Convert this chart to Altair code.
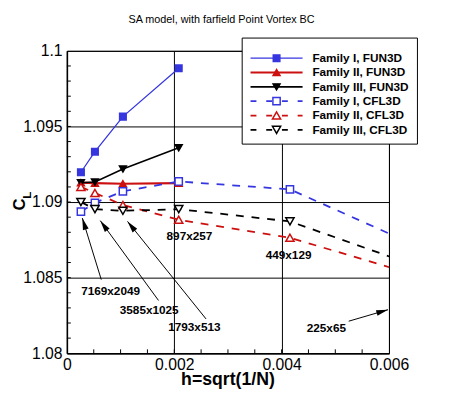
import json
import math
import altair as alt
import pandas as pd

# ---------------- data ----------------
h = [0.000261, 0.000522, 0.001043, 0.002083, 0.004155, 0.00827]
series_names = ["Family I, FUN3D", "Family II, FUN3D", "Family III, FUN3D",
                "Family I, CFL3D", "Family II, CFL3D", "Family III, CFL3D"]
fam1_fun3d = [1.09197, 1.09333, 1.09565, 1.09885]
fam2_fun3d = [1.09128, 1.09125, 1.09121, 1.09125]
fam3_fun3d = [1.09128, 1.09132, 1.09219, 1.09359]
fam1_cfl3d = [1.08937, 1.08995, 1.09071, 1.09136, 1.09084, 1.08433]
fam2_cfl3d = [1.09100, 1.09060, 1.08980, 1.08883, 1.08764, 1.08331]
fam3_cfl3d = [1.09000, 1.08953, 1.08942, 1.08953, 1.08872, 1.08357]
series_values = [fam1_fun3d, fam2_fun3d, fam3_fun3d, fam1_cfl3d, fam2_cfl3d, fam3_cfl3d]

x_ticks = [0, 0.002, 0.004, 0.006]
x_tick_labels = ["0", "0.002", "0.004", "0.006"]
y_ticks = [1.08, 1.085, 1.09, 1.095, 1.1]
y_tick_labels = ["1.08", "1.085", "1.09", "1.095", "1.1"]
x_minor = [0.0005, 0.001, 0.0015, 0.002, 0.0025, 0.003, 0.0035, 0.004, 0.0045, 0.005, 0.0055]
y_minor = [1.081, 1.082, 1.083, 1.084, 1.085, 1.086, 1.087, 1.088, 1.089, 1.09,
           1.091, 1.092, 1.093, 1.094, 1.095, 1.096, 1.097, 1.098, 1.099]

grid_labels = ["7169x2049", "3585x1025", "1793x513", "897x257", "449x129", "225x65"]
label_x = [0.000814, 0.001533, 0.002374, 0.002283, 0.00413, 0.004833]
label_y = [1.08414, 1.08284, 1.08171, 1.08775, 1.08649, 1.08169]

arrow_tail_x = [0.00064, 0.001707, 0.002592, 0.00525]
arrow_tail_y = [1.08487, 1.08349, 1.08227, 1.08212]
arrow_head_x = [0.000287, 0.000622, 0.001129, 0.005982]
arrow_head_y = [1.08894, 1.08877, 1.08872, 1.08288]

title_text = "SA model, with farfield Point Vortex BC"
x_title = "h=sqrt(1/N)"

# ---------------- styles ----------------
BLUE = "#3636e0"
RED = "#cc1010"
BLACK = "#000000"
FONT = "Liberation Sans"
W, H = 328, 308
X_DOM = [0, 0.006]
Y_DOM = [1.08, 1.1]

styles = [
    dict(color=BLUE, dash=None, shape="square", fill=BLUE, size=45, lw=1.3),
    dict(color=RED, dash=None, shape="triangle-up", fill=RED, size=50, lw=2.2),
    dict(color=BLACK, dash=None, shape="triangle-down", fill=BLACK, size=50, lw=1.6),
    dict(color=BLUE, dash=[8, 8], shape="square", fill="white", size=55, lw=1.8),
    dict(color=RED, dash=[8, 8], shape="triangle-up", fill="white", size=70, lw=1.8),
    dict(color=BLACK, dash=[8, 8], shape="triangle-down", fill="white", size=70, lw=1.8),
]

xs = alt.Scale(domain=X_DOM, nice=False, zero=False)
ys = alt.Scale(domain=Y_DOM, nice=False, zero=False)

x_axis = alt.Axis(values=x_ticks, title=None, grid=True, ticks=False,
                  labelExpr=f"{json.dumps(x_tick_labels)}[round(datum.value/0.002)]",
                  labelFont=FONT, labelFontSize=16, labelColor="black", labelPadding=4,
                  labelFlush=False, labelOverlap=False, labelBound=False,
                  domainColor="black", domainWidth=1.5,
                  gridColor="black", gridWidth=1, gridOpacity=1)
y_axis = alt.Axis(values=y_ticks, title=None, grid=True, ticks=False,
                  labelExpr=f"{json.dumps(y_tick_labels)}[round((datum.value-1.08)/0.005)]",
                  labelFont=FONT, labelFontSize=16, labelColor="black", labelPadding=5,
                  labelFlush=False, labelOverlap=False, labelBound=False,
                  domainColor="black", domainWidth=1.5,
                  gridColor="black", gridWidth=1, gridOpacity=1)


def X(field):
    return alt.X(field, type="quantitative", scale=xs, axis=x_axis)


def Y(field):
    return alt.Y(field, type="quantitative", scale=ys, axis=y_axis)


one = pd.DataFrame({"k": [0]})
layers = []

# minor ticks (inward)
layers.append(alt.Chart(pd.DataFrame({"v": y_minor})).mark_rule(color="black", strokeWidth=1)
              .encode(y=Y("v"), x=alt.value(0), x2=alt.value(4)))
layers.append(alt.Chart(pd.DataFrame({"v": x_minor})).mark_rule(color="black", strokeWidth=1)
              .encode(x=X("v"), y=alt.value(H), y2=alt.value(H - 4)))

# data series
for name, vals, st in zip(series_names, series_values, styles):
    df = pd.DataFrame({"h": h[:len(vals)], "cl": vals, "series": name, "o": list(range(len(vals)))})
    line_kw = dict(color=st["color"], strokeWidth=st["lw"], clip=True)
    if st["dash"]:
        line_kw["strokeDash"] = st["dash"]
    layers.append(alt.Chart(df).mark_line(**line_kw)
                  .encode(x=X("h"), y=Y("cl"), order="o:Q"))
    layers.append(alt.Chart(df).mark_point(shape=st["shape"], filled=True, fill=st["fill"],
                                           stroke=st["color"], strokeWidth=1.5, opacity=1,
                                           size=st["size"], clip=True)
                  .encode(x=X("h"), y=Y("cl")))

# legend
LX0, LX1, LY0, LY1 = 178.5, 357, -13, 95
layers.append(alt.Chart(one).mark_rect(fill="white", stroke="black", strokeWidth=1)
              .encode(x=alt.value(LX0), x2=alt.value(LX1), y=alt.value(LY0), y2=alt.value(LY1)))
for i, (name, st) in enumerate(zip(series_names, styles)):
    ry = 7.5 + 14.6 * i
    rkw = dict(color=st["color"], strokeWidth=st["lw"])
    if st["dash"]:
        rkw["strokeDash"] = [6, 10]
    layers.append(alt.Chart(one).mark_rule(**rkw)
                  .encode(x=alt.value(187), x2=alt.value(240), y=alt.value(ry)))
    layers.append(alt.Chart(one).mark_point(shape=st["shape"], filled=True, fill=st["fill"],
                                            stroke=st["color"], strokeWidth=1.5, opacity=1,
                                            size=st["size"])
                  .encode(x=alt.value(213.5), y=alt.value(ry)))
    layers.append(alt.Chart(pd.DataFrame({"t": [name]}))
                  .mark_text(align="left", baseline="middle", font=FONT, fontSize=12,
                             fontWeight="bold", color="black")
                  .encode(x=alt.value(250), y=alt.value(ry), text="t:N"))

# annotations
sx = W / (X_DOM[1] - X_DOM[0])
sy = H / (Y_DOM[1] - Y_DOM[0])
angles = []
for tx, ty, hx, hy in zip(arrow_tail_x, arrow_tail_y, arrow_head_x, arrow_head_y):
    dx = (hx - tx) * sx
    dy = -(hy - ty) * sy
    angles.append(math.degrees(math.atan2(dx, -dy)) % 360)
arrows = pd.DataFrame({"tx": arrow_tail_x, "ty": arrow_tail_y,
                       "hx": arrow_head_x, "hy": arrow_head_y, "ang": angles})
layers.append(alt.Chart(arrows).mark_rule(color="black", strokeWidth=1)
              .encode(x=X("tx"), y=Y("ty"), x2="hx:Q", y2="hy:Q"))
layers.append(alt.Chart(arrows).mark_point(shape="M0,0L-0.5,2L0.5,2Z", filled=True,
                                           color="black", opacity=1, size=144)
              .encode(x=X("hx"), y=Y("hy"), angle=alt.Angle("ang:Q", scale=None)))
labels = pd.DataFrame({"lab": grid_labels, "lx": label_x, "ly": label_y})
layers.append(alt.Chart(labels).mark_text(font=FONT, fontSize=12, fontWeight="bold",
                                          color="black", align="center", baseline="middle")
              .encode(x=X("lx"), y=Y("ly"), text="lab:N"))

# titles
layers.append(alt.Chart(pd.DataFrame({"t": [title_text]}))
              .mark_text(font=FONT, fontSize=11, color="black", align="center", baseline="middle")
              .encode(x=alt.value(157.5), y=alt.value(-31.5), text="t:N"))
layers.append(alt.Chart(pd.DataFrame({"t": [x_title]}))
              .mark_text(font=FONT, fontSize=18, fontWeight="bold", color="black",
                         align="center", baseline="middle")
              .encode(x=alt.value(164), y=alt.value(335), text="t:N"))
layers.append(alt.Chart(pd.DataFrame({"t": ["C"]}))
              .mark_text(font=FONT, fontSize=17, fontWeight="bold", color="black",
                         align="center", baseline="middle", angle=270)
              .encode(x=alt.value(-47.5), y=alt.value(156.5), text="t:N"))
layers.append(alt.Chart(pd.DataFrame({"t": ["L"]}))
              .mark_text(font=FONT, fontSize=12, fontWeight="bold", color="black",
                         align="center", baseline="middle", angle=270)
              .encode(x=alt.value(-41), y=alt.value(147), text="t:N"))

chart = alt.layer(*layers).properties(
    width=W, height=H,
    autosize=alt.AutoSizeParams(type="none"),
    padding={"left": 60, "top": 40, "right": 54, "bottom": 45},
    background="white",
).configure_view(stroke="black", strokeWidth=1)

chart.save("out.html", embed_options={"renderer": "svg", "actions": False})
